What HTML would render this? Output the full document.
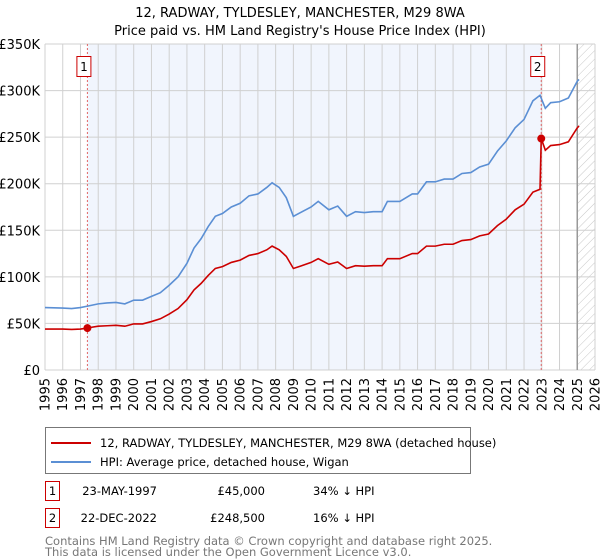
<!DOCTYPE html>
<html><head><meta charset="utf-8"><style>
body{margin:0;background:#fff;font-family:"Liberation Sans","DejaVu Sans",sans-serif;}
svg{display:block}
</style></head><body>
<svg id="chart" width="600" height="560" viewBox="0 0 600 560" font-family="'DejaVu Sans','Liberation Sans',sans-serif">
<defs>
<pattern id="hatch" width="6" height="6" patternUnits="userSpaceOnUse" patternTransform="rotate(45)">
<line x1="0" y1="0" x2="0" y2="6" stroke="#c8c8c8" stroke-width="1"/>
</pattern>
</defs>
<text x="300" y="17" text-anchor="middle" font-size="13">12, RADWAY, TYLDESLEY, MANCHESTER, M29 8WA</text>
<text x="300" y="35" text-anchor="middle" font-size="13">Price paid vs. HM Land Registry's House Price Index (HPI)</text>
<g id="plot"></g>
<g>
<rect x="45.5" y="427.5" width="425" height="46" fill="#fff" stroke="#777"/>
<line x1="51" y1="443" x2="91" y2="443" stroke="#cc0000" stroke-width="2"/>
<text x="100" y="447" font-size="11.5">12, RADWAY, TYLDESLEY, MANCHESTER, M29 8WA (detached house)</text>
<line x1="51" y1="462" x2="91" y2="462" stroke="#5b8fd4" stroke-width="2"/>
<text x="100" y="466" font-size="11.5">HPI: Average price, detached house, Wigan</text>
</g>
<g font-size="11.5">
<rect x="45.5" y="481.5" width="14" height="19" fill="#fff" stroke="#cc0000"/>
<text x="52.5" y="495" text-anchor="middle">1</text>
<text x="157" y="495" text-anchor="end">23-MAY-1997</text>
<text x="265" y="495" text-anchor="end">£45,000</text>
<text x="313" y="495">34% ↓ HPI</text>
<rect x="45.5" y="508.5" width="14" height="19" fill="#fff" stroke="#cc0000"/>
<text x="52.5" y="522" text-anchor="middle">2</text>
<text x="157" y="522" text-anchor="end">22-DEC-2022</text>
<text x="265" y="522" text-anchor="end">£248,500</text>
<text x="313" y="522">16% ↓ HPI</text>
</g>
<text x="45" y="545" font-size="11.5" fill="#777">Contains HM Land Registry data © Crown copyright and database right 2025.</text>
<text x="45" y="556" font-size="11.5" fill="#777">This data is licensed under the Open Government Licence v3.0.</text>
</svg>
<script>
const hpiYears = [1995,1996,1996.5,1997,1997.5,1998,1998.5,1999,1999.5,2000,2000.5,2001,2001.5,2002,2002.5,2003,2003.4,2003.8,2004.2,2004.6,2005,2005.5,2006,2006.5,2007,2007.5,2007.8,2008.2,2008.6,2009,2009.4,2010,2010.4,2011,2011.5,2012,2012.5,2013,2013.5,2014,2014.3,2015,2015.7,2016,2016.5,2017,2017.5,2018,2018.5,2019,2019.5,2020,2020.5,2021,2021.5,2022,2022.5,2022.9,2023.2,2023.5,2024,2024.5,2025,2025.1];
const hpiValues = [67,66.5,66,67,69,71,72,72.5,71,75,75,79,83,91,100,114.5,131,141,154,165,168,175,179,187,189,196,201,196,185,165,169,175,181,172,176,165,170,169,170,170,181,181,189,189,202,202,205,205,211,212,218,221,235,246,260,269,289,295,281,287,288,292,310,312];
const priceYears = [1995,1996,1996.5,1997,1997.39,1997.5,1998,1998.5,1999,1999.5,2000,2000.5,2001,2001.5,2002,2002.5,2003,2003.4,2003.8,2004.2,2004.6,2005,2005.5,2006,2006.5,2007,2007.5,2007.8,2008.2,2008.6,2009,2009.4,2010,2010.4,2011,2011.5,2012,2012.5,2013,2013.5,2014,2014.3,2015,2015.7,2016,2016.5,2017,2017.5,2018,2018.5,2019,2019.5,2020,2020.5,2021,2021.5,2022,2022.5,2022.9,2022.97,2023.2,2023.5,2024,2024.5,2025,2025.1];
const priceValues = [44,44,43.5,44,45,45.5,47,47.5,48,47,49.5,49.5,52,55,60,66,75.5,86,93,101.5,109,111,115.5,118,123,125,129,133,129,122,109,111.5,115.5,119.5,113.5,116,109,112,111.5,112,112,119.5,119.5,125,125,133,133,135,135,139,140,144,146,155,162,172,178,191,194,248.5,236,241,242,245,260,262];
const saleYears = [1997.39,2022.97];
const saleValues = [45,248.5];
const saleLabels = ["1","2"];
const yTicks = [0,50,100,150,200,250,300,350];
const yTickLabels = ["£0","£50K","£100K","£150K","£200K","£250K","£300K","£350K"];
const xYears = [1995,1996,1997,1998,1999,2000,2001,2002,2003,2004,2005,2006,2007,2008,2009,2010,2011,2012,2013,2014,2015,2016,2017,2018,2019,2020,2021,2022,2023,2024,2025,2026];

const L=45,R=595,T=44,B=370,Y0=1995,Y1=2026,VMAX=350;
const X=y=>L+(y-Y0)/(Y1-Y0)*(R-L);
const Y=v=>B-v/VMAX*(B-T);
const NS="http://www.w3.org/2000/svg";
const g=document.getElementById('plot');
function mk(tag,attrs,parent){const e=document.createElementNS(NS,tag);for(const k in attrs)e.setAttribute(k,attrs[k]);(parent||g).appendChild(e);return e;}

const bg=mk('rect',{x:L,y:T,width:R-L,height:B-T,fill:'#fff'});


const shade=mk('rect',{x:X(saleYears[0]),y:T,width:X(saleYears[1])-X(saleYears[0]),height:B-T,fill:'#f1f5fd'});


const hatch=mk('rect',{x:X(2025),y:T,width:R-X(2025),height:B-T,fill:'url(#hatch)'});



xYears.forEach(y=>{
  const ln=mk('line',{x1:X(y),x2:X(y),y1:T,y2:B,stroke:'#d0d0d0','stroke-width':1});
  
  
  const t=mk('text',{transform:`translate(${X(y)+4.5},${B+8}) rotate(-90)`,'text-anchor':'end','font-size':13});
  t.textContent=y;
  
  
});
yTicks.forEach((v,i)=>{
  const ln=mk('line',{x1:L,x2:R,y1:Y(v),y2:Y(v),stroke:'#d0d0d0','stroke-width':1});
  
  
  const t=mk('text',{x:L-5,y:Y(v)+5,'text-anchor':'end','font-size':13});
  t.textContent=yTickLabels[i];
  
  
});
const nowLine=mk('line',{x1:X(2025),x2:X(2025),y1:T,y2:B,stroke:'#999','stroke-width':1.5});



saleYears.forEach((y,i)=>{
  const d=mk('line',{x1:X(y),x2:X(y),y1:T,y2:B,stroke:'#e06666','stroke-width':1,'stroke-dasharray':'2,2'});
  
  
  const bx=mk('rect',{x:X(y)-10.5,y:56.5,width:14,height:20,fill:'#fff',stroke:'#cc0000'});
  
  
  const t=mk('text',{x:X(y)-3.5,y:71,'text-anchor':'middle','font-size':12});
  t.textContent=saleLabels[i];
  
  
});

const hp=mk('polyline',{points:hpiYears.map((y,i)=>X(y)+','+Y(hpiValues[i])).join(' '),fill:'none',stroke:'#5b8fd4','stroke-width':1.6});


const pp=mk('polyline',{points:priceYears.map((y,i)=>X(y)+','+Y(priceValues[i])).join(' '),fill:'none',stroke:'#cc0000','stroke-width':1.6});


saleYears.forEach((y,i)=>{
  const c=mk('circle',{cx:X(y),cy:Y(saleValues[i]),r:4,fill:'#cc0000'});
  
  
});
</script>
</body></html>
